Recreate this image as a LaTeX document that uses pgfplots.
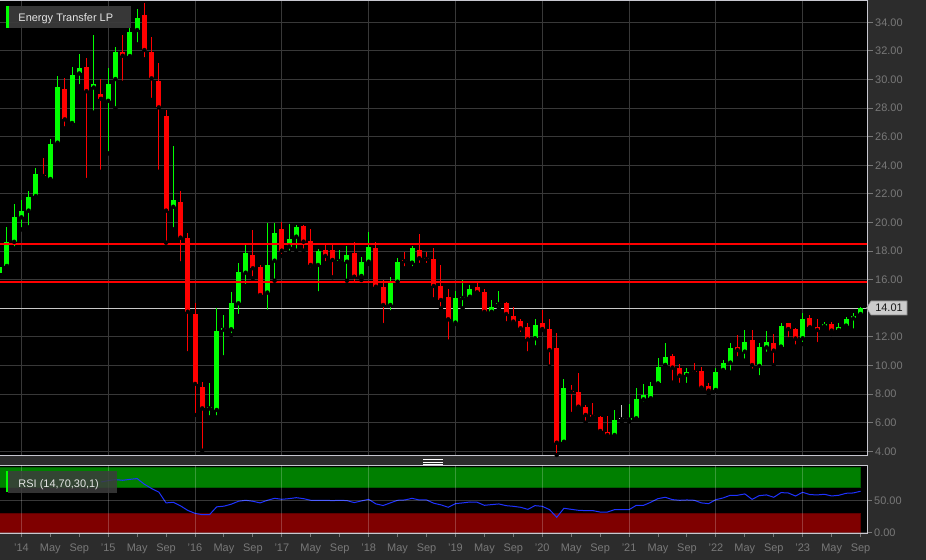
\documentclass[border=0pt]{standalone}
\usepackage{fontspec}
\setmainfont{Liberation Sans}
\usepackage{pgfplots}
\usepackage{pgfplotstable}
\pgfplotsset{compat=1.18}

\definecolor{bgc}{HTML}{2C2C2C}
\definecolor{gridc}{HTML}{383838}
\definecolor{borderc}{HTML}{C8C8D0}
\definecolor{labelc}{HTML}{787878}
\definecolor{upc}{HTML}{00FF00}
\definecolor{downc}{HTML}{FF0000}
\definecolor{flatc}{HTML}{C8C8C8}
\definecolor{bandgreen}{HTML}{007F00}
\definecolor{bandred}{HTML}{7F0000}
\definecolor{rsic}{HTML}{1E32FF}
\definecolor{boxc}{HTML}{3C3C3C}
\definecolor{redline}{HTML}{FF0000}

% monthly candles, m = months since Jan 2014
\pgfplotstableread{
m o h l c
-3 16.49 17.49 15.98 16.91
-2 16.96 19.70 16.80 18.65
-1 18.65 21.29 18.19 20.41
0 20.36 21.57 19.52 20.83
1 20.83 22.22 19.66 21.81
2 21.85 23.79 21.69 23.39
4 23.04 25.82 22.97 25.46
5 25.58 30.24 25.46 29.44
7 26.96 30.84 26.68 30.30
8 30.42 31.75 29.53 30.81
10 29.44 33.11 27.68 29.67
12 28.51 30.77 24.83 29.67
13 30.03 32.30 27.98 31.94
15 31.64 33.58 31.55 33.34
16 33.46 34.91 32.46 34.32
21 21.10 25.35 19.52 21.55
26 7.00 8.75 6.37 7.10
27 6.89 13.99 6.37 12.41
28 12.50 13.53 10.57 12.60
29 12.53 15.12 12.13 14.35
30 14.35 17.14 13.46 16.56
31 16.49 18.43 15.56 17.84
34 15.10 19.99 13.76 17.03
35 17.33 19.99 15.93 19.29
37 18.31 19.87 17.89 18.82
38 19.01 19.82 18.03 19.71
41 17.03 18.12 15.05 18.00
44 17.30 18.08 17.15 17.36
45 17.26 18.36 15.93 17.73
47 16.26 17.61 15.98 17.24
48 17.26 19.31 17.10 18.26
51 14.23 16.17 13.72 15.79
52 15.86 17.50 15.67 17.26
54 17.19 18.36 16.80 18.19
60 13.00 15.23 12.90 14.70
61 14.72 15.98 14.00 14.80
62 14.81 15.63 14.63 15.33
65 13.76 14.58 13.70 14.07
66 14.30 15.23 14.00 14.38
71 11.90 13.23 11.27 12.83
75 4.67 9.03 4.56 8.40
82 5.14 6.89 4.98 6.19
84 6.22 7.30 6.07 6.26
85 6.31 8.40 6.24 7.63
86 7.63 8.68 7.31 7.94
87 7.71 8.87 7.59 8.59
88 8.75 10.50 8.52 9.87
89 10.04 11.55 9.99 10.62
92 9.34 9.80 8.64 9.57
96 8.29 9.80 8.22 9.57
97 9.69 10.38 9.50 10.15
98 10.20 11.55 9.50 11.20
100 10.97 12.48 10.34 11.67
102 9.97 11.55 9.17 11.32
103 11.27 12.44 10.81 11.67
105 11.32 12.95 11.13 12.76
108 11.90 13.65 11.50 13.25
111 12.76 13.04 12.48 12.90
113 12.48 13.00 12.37 12.67
114 12.79 13.37 12.67 13.23
115 13.30 13.65 12.44 13.46
116 13.60 14.07 13.46 14.01
}\upData

\pgfplotstableread{
m o h l c
3 23.30 24.49 23.02 23.25
6 29.35 30.07 26.58 27.21
9 30.88 31.47 22.97 29.18
11 29.00 30.00 23.55 28.65
14 31.94 33.11 29.77 31.66
17 34.51 35.37 31.41 32.06
18 31.94 32.99 28.57 30.08
19 29.90 31.13 23.55 28.05
20 27.45 27.87 18.59 20.83
22 21.41 22.22 17.14 18.94
23 18.94 19.24 10.85 13.76
24 13.60 14.39 6.54 8.71
25 8.52 8.87 4.04 7.00
32 17.73 19.47 16.10 16.80
33 16.87 17.03 14.77 14.93
36 19.57 20.06 17.66 18.03
39 19.75 19.82 18.03 18.66
40 18.73 19.52 16.73 17.03
42 18.08 18.43 17.15 17.66
43 18.08 18.43 16.17 17.38
46 17.89 18.66 15.63 16.21
49 18.19 18.66 15.40 15.51
50 15.51 15.98 12.83 14.23
53 17.35 17.96 16.80 17.30
55 18.08 19.17 17.03 17.50
56 17.55 17.96 17.03 17.45
57 17.45 18.19 14.63 15.56
58 15.56 17.03 14.00 14.58
59 14.77 15.33 11.67 13.23
63 15.47 15.79 15.05 15.12
64 15.16 15.33 13.65 13.76
67 14.35 14.46 12.95 13.60
68 13.46 14.07 12.95 13.07
69 13.14 13.23 12.20 12.60
70 12.67 12.95 10.85 11.83
72 12.95 13.88 12.48 12.55
73 12.55 13.23 9.92 11.08
74 11.20 12.25 3.74 4.60
76 8.22 8.64 6.61 8.15
77 8.17 9.50 6.93 7.12
78 7.07 7.24 6.00 6.54
79 6.54 7.35 6.38 6.42
80 6.42 6.50 5.30 5.42
81 5.37 6.47 5.02 5.14
90 10.69 10.80 8.80 9.85
91 9.85 10.11 8.64 9.29
93 9.60 10.20 9.40 9.54
94 9.62 9.92 8.33 8.45
95 8.57 8.75 8.01 8.24
99 11.27 12.13 10.50 11.08
101 11.78 12.48 9.64 10.03
104 11.60 12.20 10.03 11.04
106 12.95 12.99 11.83 12.55
107 12.53 12.60 11.32 11.88
109 13.35 13.53 12.60 12.67
110 12.67 13.23 11.50 12.48
112 12.90 13.07 12.20 12.44
}\downData

\pgfplotstableread{
m o h l c
83 6.24 7.24 6.07 6.24
}\flatData

\pgfplotstableread{
m r
11 78
12 80
13 81.6
14 80.6
15 82
16 83.2
17 74.5
18 68
19 62.5
20 46
21 47
22 41.5
23 34.5
24 30
25 28
26 28
27 40
28 41
29 44
30 48.5
31 50
32 48.5
33 46
34 50
35 53
36 51.5
37 52.5
38 54
39 52.5
40 50
41 50
42 50
43 49.5
44 50
45 49.5
46 46.5
47 49
48 51.5
49 44.5
50 42
51 46
52 50
53 50.5
54 53
55 50.5
56 50.5
57 45.5
58 43
59 39.3
60 44.9
61 46
62 47.4
63 47
64 42.3
65 43.4
66 44.4
67 41.8
68 40.8
69 39.3
70 36.2
71 41.8
72 40.8
73 35.7
74 24
75 37.8
76 36.2
77 34.7
78 34.2
79 34.2
80 32
81 32
82 35.7
83 35.7
84 35.7
85 42.3
86 42.3
87 47
88 52.5
89 54.6
90 51
91 50
92 50.5
93 50
94 46
95 44.9
96 51
97 53.6
98 57.7
99 57.7
100 59.7
101 51.5
102 57.1
103 58.2
104 54.6
105 61.7
106 61.2
107 56.6
108 62.2
109 58.7
110 58.2
111 59.2
112 56.6
113 57.7
114 60.7
115 61.2
116 63.8
}\rsiData

\pgfplotsset{
  candle/.style 2 args={only marks, mark=none, forget plot,
    error bars/y dir=plus, error bars/y explicit, error bars/error mark=none,
    error bars/error bar style={line width=#2, draw=#1, line cap=butt}},
  ticktext/.style={font=\fontsize{11}{13}\selectfont, text=labelc},
}

\newcommand{\candles}[2]{%
  \addplot[candle={#2}{1bp}] table[x=m, y=l, y error expr={\thisrow{h}-\thisrow{l}}] {#1};
  \addplot[candle={#2}{5bp}] table[x=m, y expr={min(\thisrow{o},\thisrow{c})}, y error expr={max(abs(\thisrow{c}-\thisrow{o}),0.08)}] {#1};
}

\begin{document}
\begin{tikzpicture}[x=1bp,y=1bp]
\fill[bgc] (0,0) rectangle (926,560);

% ---------------- price panel ----------------
\begin{axis}[at={(0bp,104bp)}, anchor=south west, scale only axis,
  width=867bp, height=455bp,
  xmin=-2.958, xmax=116.89, ymin=3.6713, ymax=35.49,
  axis background/.style={fill=black},
  axis line style={draw=borderc, line width=1bp},
  xtick={0,12,...,108}, xticklabels={}, xtick style={draw=none},
  xmajorgrids, ymajorgrids,
  grid style={draw=gridc, line width=1bp},
  ytick={4,6,...,34},
  yticklabels={4.00,6.00,8.00,10.00,12.00,14.00,16.00,18.00,20.00,22.00,24.00,26.00,28.00,30.00,32.00,34.00},
  ytick pos=right, yticklabel pos=right,
  tick align=outside, major tick length=6bp,
  ytick style={draw=labelc, line width=1bp},
  yticklabel style={ticktext, anchor=west, inner sep=0pt, xshift=2bp},
  clip=true]
\addplot[draw=flatc, line width=1bp, forget plot] coordinates {(-3,14.01) (117,14.01)};
\candles{\upData}{upc}
\candles{\downData}{downc}
\candles{\flatData}{flatc}
\addplot[draw=redline, line width=2bp, forget plot] coordinates {(-3,18.52) (117,18.52)};
\addplot[draw=redline, line width=2bp, forget plot] coordinates {(-3,15.86) (117,15.86)};
\end{axis}

% ---------------- RSI panel ----------------
\begin{axis}[at={(0bp,26bp)}, anchor=south west, scale only axis,
  width=867bp, height=68.7bp,
  xmin=-2.958, xmax=116.89, ymin=-1.53, ymax=103.5,
  axis background/.style={fill=black},
  axis line style={draw=borderc, line width=1bp},
  axis on top,
  xtick={0,4,...,116},
  xticklabels={'14,May,Sep,'15,May,Sep,'16,May,Sep,'17,May,Sep,'18,May,Sep,'19,May,Sep,'20,May,Sep,'21,May,Sep,'22,May,Sep,'23,May,Sep},
  xtick pos=left, ytick pos=right, yticklabel pos=right,
  tick align=outside, major tick length=5bp,
  xtick style={draw=labelc, line width=1bp, /pgfplots/major tick length=3bp},
  ytick style={draw=labelc, line width=1bp},
  ytick={0,50}, yticklabels={0.00,50.00}, ymajorgrids,
  extra x ticks={0,12,...,108}, extra x tick labels={},
  extra x tick style={grid=major, /pgfplots/major tick length=0pt},
  grid style={draw=white, opacity=0.22, line width=1bp},
  xticklabel style={ticktext, anchor=north, inner sep=0pt, yshift=-5bp},
  yticklabel style={ticktext, anchor=west, inner sep=0pt, xshift=2bp}]
\addplot[fill=bandgreen, draw=bandgreen!75!black, line width=1bp, forget plot] coordinates {(-3,70) (116,70) (116,100) (-3,100)} -- cycle;
\addplot[fill=bandred, draw=bandred!75!black, line width=1bp, forget plot] coordinates {(-3,0) (116,0) (116,30) (-3,30)} -- cycle;
\addplot[draw=rsic, line width=1bp, mark=none] table[x=m, y=r] {\rsiData};
\end{axis}

% ---------------- labels and decorations ----------------
\fill[boxc, opacity=0.92] (8.7,532.3) rectangle (130.7,554.3);
\fill[upc] (5.7,532.3) rectangle (8.7,554.3);
\node[anchor=base west, inner sep=0pt, text=white!90!black, font=\fontsize{11}{13}\selectfont] at (18.3,538.7) {Energy Transfer LP};

\fill[boxc, opacity=0.85] (8.3,67) rectangle (116.7,88.7);
\fill[upc] (6,67.7) rectangle (8.3,88.7);
\node[anchor=base west, inner sep=0pt, text=white!90!black, font=\fontsize{11}{13}\selectfont] at (18.3,72.7) {RSI (14,70,30,1)};

\fill[white!80!black, draw=white!55!black, line width=0.6bp] (866.5,252) -- (871,259) -- (907,259) -- (907,245) -- (871,245) -- cycle;
\node[anchor=center, inner sep=0pt, text=black!90, font=\fontsize{11}{13}\selectfont] at (889,252) {14.01};

\fill[white] (423,95.3) rectangle (443,101);
\foreach \yy in {99.7,98.3,97} {\draw[bgc, line width=0.5bp] (423,\yy) -- (443,\yy);}

\pgfresetboundingbox
\useasboundingbox (0,0) rectangle (926,560);
\end{tikzpicture}
\end{document}
